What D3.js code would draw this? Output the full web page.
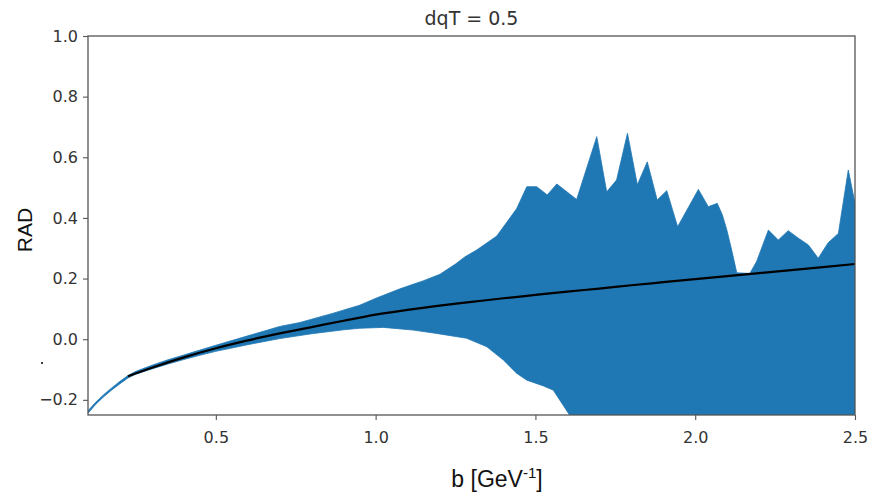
<!DOCTYPE html>
<html>
<head>
<meta charset="utf-8">
<script src="https://cdn.jsdelivr.net/npm/d3@7"></script>
<style>
  body { margin: 0; background: #fff; }
  svg { display: block; }
</style>
</head>
<body>
<div id="chart"></div>
<script>
// data
var meanX = [0.225, 0.3, 0.4, 0.5, 0.6, 0.7, 0.8, 0.9, 1.0, 1.1, 1.2, 1.3, 1.4, 1.5, 1.6, 1.7, 1.8, 1.9, 2.0, 2.1, 2.2, 2.3, 2.4, 2.5];
var meanY = [-0.122, -0.094, -0.060, -0.030, -0.004, 0.019, 0.040, 0.061, 0.081, 0.097, 0.111, 0.123, 0.135, 0.146, 0.157, 0.167, 0.178, 0.188, 0.198, 0.208, 0.218, 0.228, 0.238, 0.248];

var upperX = [0.1, 0.125, 0.15, 0.175, 0.2, 0.225, 0.25, 0.3, 0.35, 0.4, 0.45, 0.5, 0.6, 0.7, 0.763, 0.8, 0.868, 0.95, 1.003, 1.076, 1.15, 1.201, 1.25, 1.28, 1.316, 1.379, 1.441, 1.473, 1.504, 1.537, 1.567, 1.629, 1.692, 1.723, 1.754, 1.788, 1.819, 1.85, 1.881, 1.911, 1.945, 2.01, 2.041, 2.069, 2.085, 2.099, 2.115, 2.13, 2.171, 2.192, 2.229, 2.26, 2.291, 2.323, 2.354, 2.385, 2.416, 2.448, 2.479, 2.5];
var upperY = [-0.236, -0.207, -0.182, -0.160, -0.139, -0.120, -0.106, -0.086, -0.068, -0.052, -0.036, -0.020, 0.011, 0.042, 0.055, 0.066, 0.086, 0.112, 0.136, 0.166, 0.193, 0.214, 0.248, 0.272, 0.294, 0.340, 0.430, 0.503, 0.503, 0.476, 0.512, 0.461, 0.668, 0.486, 0.525, 0.679, 0.509, 0.585, 0.459, 0.490, 0.371, 0.494, 0.437, 0.448, 0.410, 0.360, 0.290, 0.219, 0.217, 0.256, 0.360, 0.327, 0.358, 0.333, 0.311, 0.267, 0.318, 0.349, 0.558, 0.448];

var lowerX = [0.1, 0.125, 0.15, 0.175, 0.2, 0.225, 0.25, 0.3, 0.35, 0.4, 0.45, 0.5, 0.6, 0.7, 0.8, 0.9, 0.95, 1.024, 1.118, 1.191, 1.285, 1.348, 1.4, 1.441, 1.473, 1.525, 1.556, 1.603, 1.62, 1.7, 2.0, 2.5];
var lowerY = [-0.244, -0.214, -0.189, -0.167, -0.147, -0.128, -0.115, -0.098, -0.082, -0.067, -0.053, -0.040, -0.018, 0.002, 0.018, 0.031, 0.036, 0.039, 0.030, 0.019, 0.003, -0.025, -0.069, -0.112, -0.135, -0.154, -0.168, -0.244, -0.27, -0.35, -0.45, -0.5];

var xTicks = [0.5, 1.0, 1.5, 2.0, 2.5];
var yTicks = [-0.2, 0.0, 0.2, 0.4, 0.6, 0.8, 1.0];

// Canvas
var margin = { top: 36, right: 14, bottom: 78, left: 88 };
var width = 869 - margin.left - margin.right;
var height = 493 - margin.top - margin.bottom;

var svg = d3.select("#chart").append("svg")
    .attr("width", 869)
    .attr("height", 493);

var g = svg.append("g")
    .attr("transform", "translate(" + margin.left + "," + margin.top + ")");

var x = d3.scaleLinear().domain([0.1, 2.5]).range([0, width]);
var y = d3.scaleLinear().domain([-0.25, 1.0]).range([height, 0]);

g.append("clipPath").attr("id", "plotclip")
  .append("rect").attr("width", width).attr("height", height);

// band: upper edge forward, lower edge back
var upperPts = upperX.map(function (v, i) { return [v, upperY[i]]; });
var lowerPts = lowerX.map(function (v, i) { return [v, lowerY[i]]; }).reverse();

var line = d3.line()
    .x(function (d) { return x(d[0]); })
    .y(function (d) { return y(d[1]); });

g.append("path")
    .attr("clip-path", "url(#plotclip)")
    .attr("d", line(upperPts.concat(lowerPts)) + "Z")
    .style("fill", "#1f77b4")
    .style("stroke", "#1f77b4")
    .style("stroke-width", 0.8);

g.append("path")
    .attr("clip-path", "url(#plotclip)")
    .attr("d", line.curve(d3.curveMonotoneX)(meanX.map(function (v, i) { return [v, meanY[i]]; })))
    .style("fill", "none")
    .style("stroke", "#000")
    .style("stroke-width", 2.2);

// axes
var xAxis = g.append("g")
    .attr("transform", "translate(0," + height + ")")
    .call(d3.axisBottom(x).tickValues(xTicks).tickFormat(d3.format(".1f")).tickSize(5).tickSizeOuter(0).tickPadding(12));

var yAxis = g.append("g")
    .call(d3.axisLeft(y).tickValues(yTicks).tickFormat(d3.format(".1f")).tickSize(5).tickSizeOuter(0).tickPadding(5));

[xAxis, yAxis].forEach(function (a) {
  a.select(".domain").remove();
  a.selectAll("line").attr("stroke", "#555").attr("stroke-width", 1.1);
  a.selectAll("text")
    .attr("fill", "#333")
    .style("font-family", "DejaVu Sans")
    .style("font-size", "16px");
});

// spines
g.append("rect")
    .attr("width", width)
    .attr("height", height)
    .style("fill", "none")
    .style("stroke", "#555")
    .style("stroke-width", 1.3);

// title and labels
svg.append("text")
    .attr("x", margin.left + width / 2)
    .attr("y", 25)
    .attr("text-anchor", "middle")
    .style("font-family", "DejaVu Sans")
    .style("font-size", "19px")
    .style("fill", "#333")
    .text("dqT = 0.5");

svg.append("text")
    .attr("transform", "translate(32,230) rotate(-90)")
    .attr("text-anchor", "middle")
    .style("font-family", "Liberation Sans")
    .style("font-size", "21px")
    .style("fill", "#111")
    .text("RAD");

var xl = svg.append("text")
    .attr("x", 497)
    .attr("y", 487)
    .attr("text-anchor", "middle")
    .style("font-family", "Liberation Sans")
    .style("font-size", "23px")
    .style("fill", "#111");
xl.append("tspan").text("b [GeV");
xl.append("tspan").attr("dy", -9).style("font-size", "15px").text("-1");
xl.append("tspan").attr("dy", 9).text("]");

// stray dot left of the axis
svg.append("circle")
    .attr("cx", 42)
    .attr("cy", 363)
    .attr("r", 1)
    .style("fill", "#000");
</script>
</body>
</html>
